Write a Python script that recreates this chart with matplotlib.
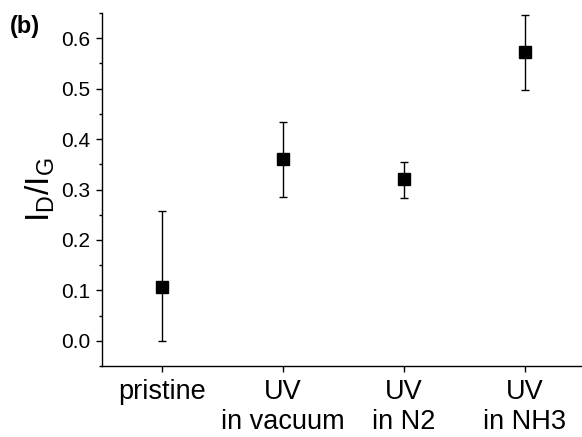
import matplotlib
matplotlib.use("Agg")
import matplotlib.pyplot as plt
import numpy as np
from matplotlib.ticker import MultipleLocator

categories = ["pristine", "UV\nin vacuum", "UV\nin N2", "UV\nin NH3"]
ratio = [0.107, 0.360, 0.320, 0.573]
err_low = [0.107, 0.075, 0.037, 0.076]
err_high = [0.150, 0.073, 0.035, 0.073]
yticks = [0.0, 0.1, 0.2, 0.3, 0.4, 0.5, 0.6]

plt.rcParams['font.family'] = ['Liberation Sans', 'DejaVu Sans']

fig = plt.figure(figsize=(5.82, 4.37), dpi=100)
ax = fig.add_axes([102/582, 1-366/437, (582-102)/582 + 0.005, (366-13)/437])

x = np.arange(1, len(categories) + 1)
ax.errorbar(x, ratio, yerr=[err_low, err_high], fmt='s', color='black',
            markersize=8.5, ecolor='black', elinewidth=1.0, capsize=2.6,
            capthick=1.0)

ax.set_xlim(0.5, 4.5)
ax.set_ylim(-0.05, 0.65)
ax.set_xticks(x)
ax.set_xticklabels(categories, fontsize=19.5, linespacing=1.2)
ax.set_yticks(yticks)
ax.yaxis.set_minor_locator(MultipleLocator(0.05))
ax.set_yticklabels([f"{v:.1f}" for v in yticks], fontsize=15)
ax.tick_params(axis='y', which='major', direction='out', length=4.5, width=1, pad=4)
ax.tick_params(axis='y', which='minor', direction='out', length=2.5, width=1)
ax.tick_params(axis='x', which='major', direction='out', length=4.5, width=1, pad=5)

for s in ['top', 'right']:
    ax.spines[s].set_visible(False)
for s in ['left', 'bottom']:
    ax.spines[s].set_linewidth(1.0)

ax.set_ylabel(r"I$_\mathregular{D}$/I$_\mathregular{G}$", fontsize=24, labelpad=3)
fig.text(10/582, 1-26/437, "(b)", fontsize=17, fontweight='bold', va='center', ha='left')

fig.savefig("out.png", dpi=100)
